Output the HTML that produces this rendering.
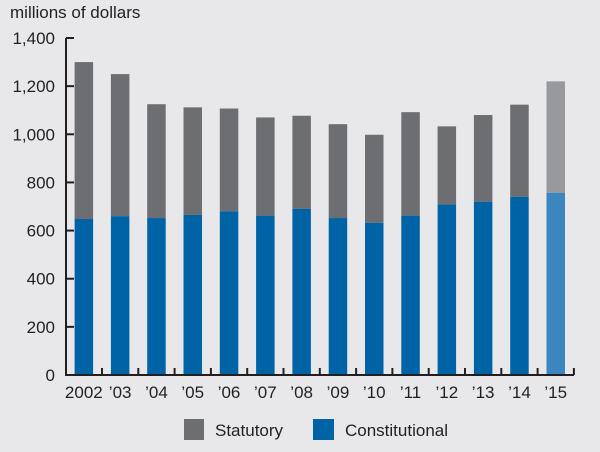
<!DOCTYPE html>
<html><head><meta charset="utf-8"><style>
body{margin:0;background:#e8e8ea;}
svg{display:block;font-family:"Liberation Sans",sans-serif;}
</style></head><body>
<svg width="600" height="452">
<rect width="600" height="452" fill="#e8e8ea"/>
<text x="10" y="18" font-size="17" fill="#231f20">millions of dollars</text>
<g id="plot"></g>
<g>
<rect x="184" y="419" width="20" height="21" fill="#6d6e71"/>
<text x="215" y="436" font-size="17" fill="#231f20">Statutory</text>
<rect x="313" y="419" width="21" height="21" fill="#0063a6"/>
<text x="345" y="436" font-size="17" fill="#231f20">Constitutional</text>
</g>
</svg>
<script>
const categories=["2002","’03","’04","’05","’06","’07","’08","’09","’10","’11","’12","’13","’14","’15"];
const constitutional=[648,660,652,665,680,662,690,652,632,662,708,720,740,757];
const totals=[1300,1250,1125,1112,1107,1070,1077,1042,998,1092,1033,1080,1123,1220];
const yTicks=[0,200,400,600,800,1000,1200,1400];
const yTickLabels=["0","200","400","600","800","1,000","1,200","1,400"];
const NS="http://www.w3.org/2000/svg";
const g=document.getElementById('plot');
const x0=66,yBase=375,yTop=38,yMax=1400,step=36.3,barW=18.5,firstX=74.6;
function y(v){return yBase-(v/yMax)*(yBase-yTop);}
function bx(i){return firstX+i*step;}
function mk(tag,attrs){const e=document.createElementNS(NS,tag);for(const k in attrs)e.setAttribute(k,attrs[k]);g.appendChild(e);return e;}
categories.forEach((c,i)=>{
  const last=i===categories.length-1;
  const s=mk('rect',{x:bx(i),y:y(totals[i]),width:barW,height:y(constitutional[i])-y(totals[i]),fill:last?'#97999c':'#6d6e71'});
  
  
  const b=mk('rect',{x:bx(i),y:y(constitutional[i]),width:barW,height:yBase-y(constitutional[i]),fill:last?'#3c86c0':'#0063a6'});
  
  
  const t=mk('text',{x:bx(i)+barW/2,y:398,'font-size':17,'text-anchor':'middle',fill:'#231f20'});
  t.textContent=c;
  
  
  const tk=mk('line',{x1:bx(i)+barW+(step-barW)/2,x2:bx(i)+barW+(step-barW)/2,y1:yBase,y2:yBase-7,stroke:'#231f20','stroke-width':2});
  
  
});
yTicks.forEach((v,i)=>{
  const l=mk('line',{x1:x0,x2:x0+8,y1:y(v),y2:y(v),stroke:'#231f20','stroke-width':2});
  
  
  const t=mk('text',{x:55,y:y(v)+6,'font-size':17,'text-anchor':'end',fill:'#231f20'});
  t.textContent=yTickLabels[i];
  
  
});
const ya=mk('line',{x1:x0,x2:x0,y1:yTop,y2:yBase+1,stroke:'#231f20','stroke-width':2});


const xa=mk('line',{x1:x0-1,x2:574,y1:yBase,y2:yBase,stroke:'#231f20','stroke-width':2});


</script>
</body></html>
